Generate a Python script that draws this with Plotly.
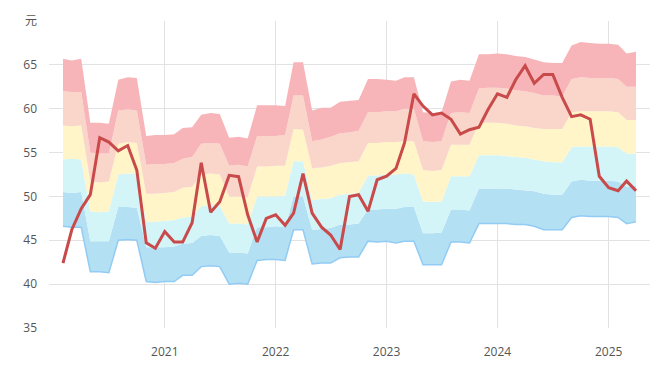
import plotly.graph_objects as go

months = [f"{y}-{m:02d}-01" for y in range(2020, 2026) for m in range(1, 13)]
months = months[1:64]  # 2020-02 .. 2025-04

p_max = [65.7, 65.5, 65.7, 58.4, 58.4, 58.3, 63.3, 63.6, 63.5, 56.9, 57.0, 57.0, 57.1, 57.8, 57.9, 59.3, 59.5, 59.4,
         56.7, 56.8, 56.6, 60.4, 60.4, 60.4, 60.3, 65.3, 65.3, 59.8, 60.1, 60.1, 60.8, 60.9, 61.0, 63.4, 63.4, 63.3,
         63.2, 63.6, 63.6, 59.6, 59.5, 59.6, 63.1, 63.3, 63.2, 66.2, 66.2, 66.3, 66.2, 66.0, 65.9, 65.6, 65.3, 65.2,
         65.2, 67.2, 67.6, 67.5, 67.4, 67.4, 67.3, 66.3, 66.5]
p_80 = [62.0, 61.9, 61.9, 55.0, 54.9, 54.9, 59.8, 59.9, 59.8, 53.6, 53.7, 53.7, 53.8, 54.3, 54.5, 56.0, 56.1, 56.0,
        53.5, 53.6, 53.4, 56.9, 56.9, 56.9, 57.0, 61.5, 61.5, 56.3, 56.5, 56.8, 57.2, 57.3, 57.5, 59.6, 59.6, 59.7,
        59.7, 60.0, 60.0, 56.3, 56.2, 56.3, 59.5, 59.6, 59.5, 62.3, 62.4, 62.4, 62.3, 62.1, 62.0, 61.8, 61.5, 61.5,
        61.4, 63.4, 63.6, 63.5, 63.5, 63.5, 63.4, 62.5, 62.5]
p_60 = [58.1, 58.0, 58.1, 51.7, 51.6, 51.7, 56.0, 56.2, 56.1, 50.3, 50.3, 50.4, 50.5, 51.0, 51.1, 52.5, 52.6, 52.5,
        50.0, 50.0, 49.9, 53.4, 53.4, 53.5, 53.5, 57.7, 57.6, 53.2, 53.3, 53.5, 53.8, 53.9, 54.0, 56.1, 56.1, 56.2,
        56.2, 56.3, 56.3, 53.0, 52.9, 53.0, 55.9, 55.9, 55.9, 58.4, 58.4, 58.4, 58.3, 58.1, 58.0, 57.8, 57.7, 57.7,
        57.7, 59.6, 59.7, 59.7, 59.7, 59.7, 59.6, 58.7, 58.7]
p_40 = [54.2, 54.3, 54.2, 48.3, 48.2, 48.3, 52.5, 52.6, 52.6, 47.1, 47.1, 47.2, 47.3, 47.6, 47.7, 48.9, 49.0, 48.9,
        46.9, 46.9, 46.8, 50.0, 50.0, 50.0, 50.1, 54.0, 54.0, 49.6, 49.7, 49.8, 50.2, 50.3, 50.4, 52.4, 52.4, 52.5,
        52.5, 52.6, 52.5, 49.4, 49.4, 49.4, 52.3, 52.3, 52.3, 54.7, 54.7, 54.7, 54.6, 54.5, 54.4, 54.2, 54.0, 53.9,
        53.9, 55.6, 55.7, 55.7, 55.7, 55.7, 55.6, 54.9, 54.9]
p_20 = [50.5, 50.4, 50.5, 44.9, 44.9, 44.9, 48.8, 48.8, 48.7, 44.2, 44.2, 44.2, 44.3, 44.6, 44.7, 45.5, 45.6, 45.5,
        43.6, 43.6, 43.5, 46.5, 46.5, 46.6, 46.5, 50.0, 50.0, 46.2, 46.3, 46.4, 46.8, 46.8, 46.9, 48.5, 48.5, 48.6,
        48.6, 48.8, 48.8, 45.8, 45.8, 45.9, 48.5, 48.5, 48.4, 50.9, 50.9, 50.9, 50.9, 50.8, 50.7, 50.6, 50.3, 50.2,
        50.2, 51.7, 51.9, 51.8, 51.8, 51.8, 51.7, 51.1, 51.2]
p_min = [46.6, 46.5, 46.5, 41.4, 41.4, 41.3, 45.0, 45.1, 45.0, 40.3, 40.2, 40.3, 40.3, 41.0, 41.0, 42.0, 42.1, 42.0,
         40.0, 40.1, 40.0, 42.7, 42.8, 42.8, 42.7, 46.2, 46.2, 42.3, 42.4, 42.4, 43.0, 43.1, 43.1, 44.9, 44.8, 44.9,
         44.7, 44.9, 44.9, 42.2, 42.2, 42.2, 44.8, 44.8, 44.7, 46.9, 46.9, 46.9, 46.9, 46.8, 46.8, 46.6, 46.2, 46.2,
         46.2, 47.6, 47.8, 47.7, 47.7, 47.7, 47.6, 46.9, 47.1]
price = [42.4, 46.2, 48.6, 50.2, 56.7, 56.2, 55.2, 55.8, 53.0, 44.7, 44.1, 46.0, 44.8, 44.8, 47.0, 53.85, 48.2, 49.4,
         52.4, 52.25, 47.9, 44.8, 47.5, 47.9, 46.7, 48.1, 52.6, 48.1, 46.5, 45.6, 43.95, 50.0, 50.2, 48.3, 51.9, 52.3,
         53.2, 56.1, 61.7, 60.3, 59.3, 59.5, 58.8, 57.1, 57.6, 57.9, 59.9, 61.7, 61.3, 63.3, 64.9, 62.9, 63.9, 63.9,
         61.3, 59.1, 59.3, 58.8, 52.3, 51.0, 50.65, 51.75, 50.65]

x_tickvals = ["2021-01-01", "2022-01-01", "2023-01-01", "2024-01-01", "2025-01-01"]
x_ticktext = ["2021", "2022", "2023", "2024", "2025"]
y_ticks = [35, 40, 45, 50, 55, 60, 65, 70]
y_ticktext = ["35", "40", "45", "50", "55", "60", "65", "元"]

band_colors = ["#B3E0F3", "#D3F5F8", "#FFF5C9", "#FAD5C9", "#F8B5B9"]

fig = go.Figure()
fig.add_trace(go.Scatter(x=months, y=p_min, mode="lines",
                         line=dict(color="#92CCF4", width=1.5), hoverinfo="skip", showlegend=False))
for series, col in zip([p_20, p_40, p_60, p_80, p_max], band_colors):
    fig.add_trace(go.Scatter(x=months, y=series, mode="lines", line=dict(width=0, color=col),
                             fill="tonexty", fillcolor=col, hoverinfo="skip", showlegend=False))
fig.add_trace(go.Scatter(x=months, y=price, mode="lines",
                         line=dict(color="#C94A4A", width=3), showlegend=False))

fig.update_layout(
    width=661, height=363,
    margin=dict(l=41, r=19, t=13, b=43),
    plot_bgcolor="white", paper_bgcolor="white",
    font=dict(family="Open Sans, Noto Sans CJK SC, sans-serif", size=12, color="#555555"),
    xaxis=dict(range=["2019-12-17", "2025-05-17"], tickvals=x_tickvals, ticktext=x_ticktext,
               showgrid=True, gridcolor="#E2E2E2", gridwidth=1, zeroline=False, showline=False,
               ticks="", ticklabelstandoff=15, automargin=False),
    yaxis=dict(range=[35, 70], tickvals=y_ticks, ticktext=y_ticktext,
               showgrid=True, gridcolor="#E2E2E2", gridwidth=1, zeroline=False, showline=False,
               ticks="", ticklabelstandoff=11, automargin=False),
)
fig.write_html("out.html")
